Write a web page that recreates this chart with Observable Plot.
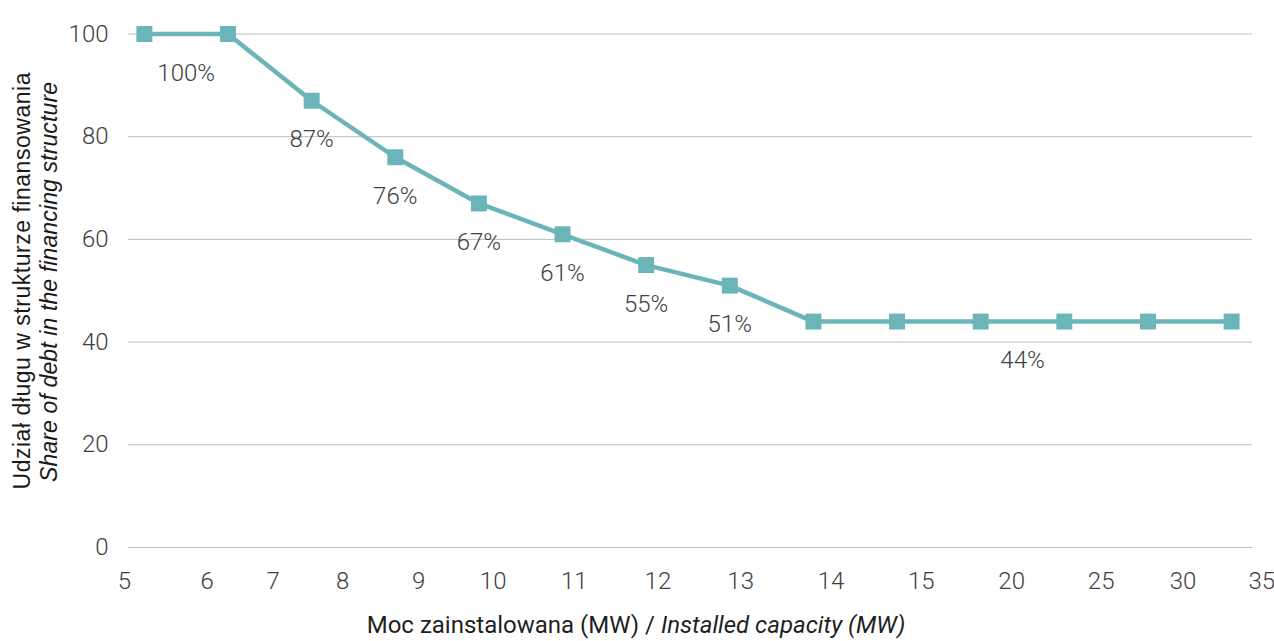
<!DOCTYPE html>
<html>
<head>
<meta charset="utf-8">
<script src="https://cdn.jsdelivr.net/npm/d3@7"></script>
<script src="https://cdn.jsdelivr.net/npm/@observablehq/plot@0.6"></script>
<style>
  html, body { margin: 0; padding: 0; background: #fff; }
  #chart svg { display: block; }
</style>
</head>
<body>
<div id="chart"></div>
<script>
// Share of debt in the financing structure by installed capacity
const debtShare = [100, 100, 87, 76, 67, 61, 55, 51, 44, 44, 44, 44, 44, 44];

// Capacity labels along the horizontal axis and where they sit, in point-index units
const xTickLabels = ["5", "6", "7", "8", "9", "10", "11", "12", "13", "14", "15", "20", "25", "30", "35"];
const xTickPos = [-0.24, 0.75, 1.54, 2.37, 3.28, 4.17, 5.14, 6.14, 7.13, 8.21, 9.29, 10.37, 11.44, 12.42, 13.36];

const yTicks = [0, 20, 40, 60, 80, 100];

const yTitle = ["Udział długu w strukturze finansowania", "Share of debt in the financing structure"];
const xTitle = ["Moc zainstalowana (MW) / ", "Installed capacity (MW)"];

const teal = "#6bb4b8";
const textGray = "#404040";

const points = debtShare.map((share, i) => ({i, share}));

// One label per run of equal values, centred on the run
const labels = [];
points.forEach((p) => {
  const last = labels[labels.length - 1];
  if (last && last.share === p.share) last.idx.push(p.i);
  else labels.push({share: p.share, idx: [p.i]});
});
labels.forEach((l) => (l.x = d3.mean(l.idx)));

const chart = Plot.plot({
  width: 1274,
  height: 641,
  marginLeft: 128,
  marginRight: 22,
  marginTop: 33.5,
  marginBottom: 94,
  style: {fontFamily: "Roboto, sans-serif", fontSize: "24px", fontWeight: 300, color: textGray, background: "#fff"},
  x: {domain: [-0.19, 13.25], axis: null},
  y: {domain: [0, 100], axis: null},
  marks: [
    Plot.gridY(yTicks, {stroke: "#bdbdbd", strokeOpacity: 1, strokeWidth: 1}),
    Plot.axisY({ticks: yTicks, tickSize: 0, tickPadding: 20, label: null, fill: textGray, fontSize: 24}),
    Plot.axisX({
      ticks: xTickPos,
      tickFormat: (d) => xTickLabels[xTickPos.indexOf(d)],
      tickSize: 0,
      tickPadding: 24,
      label: null,
      fill: textGray,
      fontSize: 24
    }),
    Plot.line(points, {x: "i", y: "share", stroke: teal, strokeWidth: 4.5}),
    Plot.dot(points, {x: "i", y: "share", symbol: "square", r: 9, fill: teal, stroke: "none"}),
    Plot.text(labels, {x: "x", y: "share", text: (d) => `${d.share}%`, dy: 39, fill: textGray, fontSize: 24})
  ]
});

document.getElementById("chart").appendChild(chart);

// Axis titles with mixed regular/italic runs
const svg = d3.select(chart);

const xt = svg.append("text")
  .attr("x", 636)
  .attr("y", 633)
  .attr("text-anchor", "middle")
  .attr("fill", "#1f1f1f")
  .style("font-family", "Roboto, sans-serif")
  .style("font-size", "24px")
  .style("font-weight", 400);
xt.append("tspan").text(xTitle[0]);
xt.append("tspan").style("font-style", "italic").text(xTitle[1]);

const yt = svg.append("g")
  .attr("fill", "#1a1a1a")
  .style("font-family", "'Liberation Sans', Arial, sans-serif")
  .style("font-size", "23px")
  .style("font-weight", 400);
yt.append("text")
  .attr("transform", "translate(30,281) rotate(-90)")
  .attr("text-anchor", "middle")
  .attr("textLength", 417)
  .text(yTitle[0]);
yt.append("text")
  .attr("transform", "translate(57,282) rotate(-90)")
  .attr("text-anchor", "middle")
  .attr("textLength", 400)
  .style("font-style", "italic")
  .text(yTitle[1]);
</script>
</body>
</html>
